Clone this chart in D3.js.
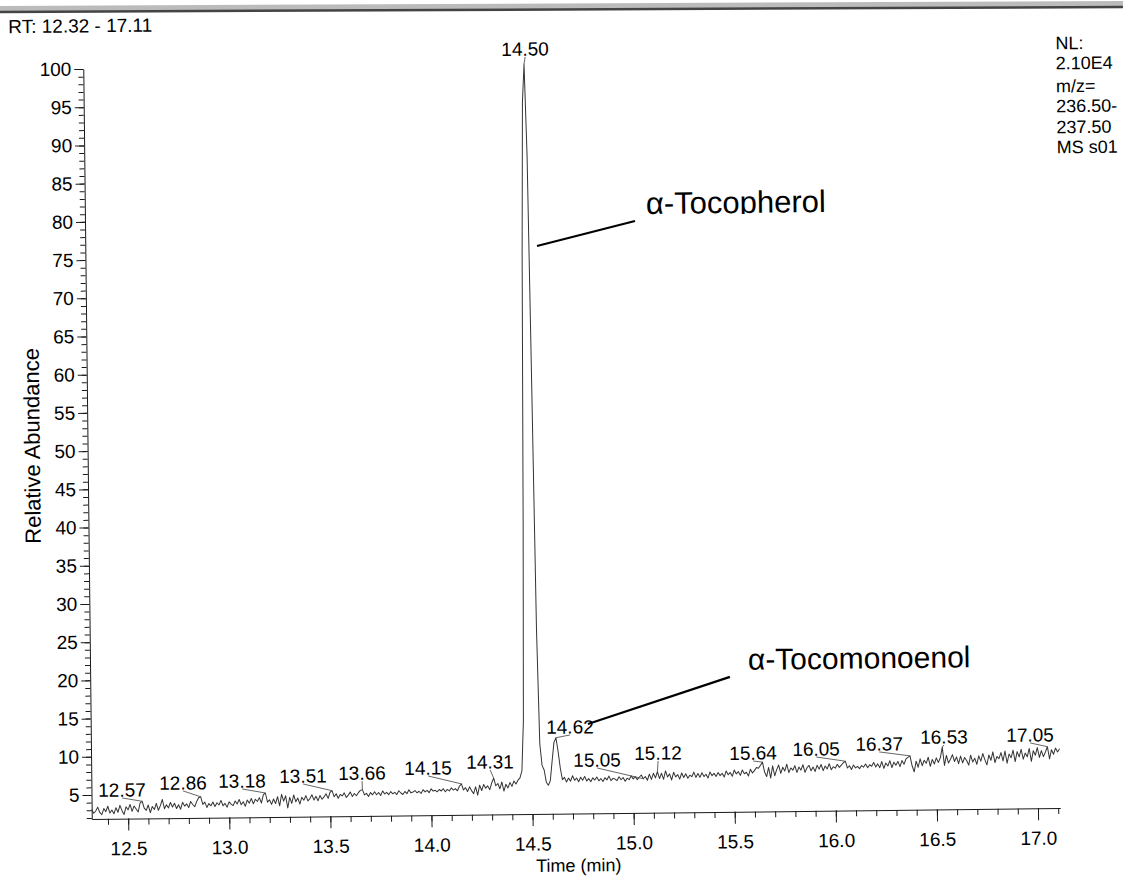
<!DOCTYPE html>
<html><head><meta charset="utf-8">
<script src="https://cdn.jsdelivr.net/npm/d3@7"></script>
<style>
html,body{margin:0;padding:0;background:#fff;}
svg{display:block;font-family:"Liberation Sans",Arial,Helvetica,sans-serif;}
</style></head><body>
<svg id="chart" width="1123" height="878"></svg>
<script>
// ---------------- DATA ----------------
const scanStart = 12.32;   // min
const scanStep = 0.01;     // min per scan
// relative abundance per scan, 12.32 .. 17.11 min
const abundance = [
 3.1,2.6,2.9,3.4,2.7,2.4,3.2,2.8,3.5,2.6,
 3.0,2.5,3.3,2.7,3.6,2.9,2.4,3.4,3.0,3.7,
 2.8,3.5,3.1,2.7,3.9,4.1,3.2,2.9,3.6,2.6,
 3.4,3.0,3.8,2.9,3.5,4.3,3.1,3.6,3.2,3.9,
 3.3,3.8,3.1,3.6,3.0,3.9,3.4,3.7,3.2,4.0,
 3.6,3.3,4.0,4.5,4.6,3.6,3.9,3.2,3.7,3.4,
 3.9,3.3,3.8,3.5,4.1,3.4,3.7,3.2,3.9,3.6,
 3.4,4.0,3.6,4.2,3.5,3.9,3.3,4.1,3.7,4.3,
 3.6,4.2,3.9,4.4,3.7,4.8,5.0,3.8,4.1,3.5,
 4.2,3.6,4.5,3.3,4.8,3.9,4.6,3.0,4.4,3.6,
 4.7,3.8,4.3,3.5,4.4,4.0,4.6,3.9,4.2,4.7,
 4.0,4.5,3.9,4.6,4.1,4.4,4.8,4.2,5.0,5.2,
 4.4,4.8,4.2,4.7,4.5,4.9,4.3,4.6,5.0,4.4,
 4.8,4.5,4.9,5.2,5.3,4.6,4.8,4.4,4.9,4.6,
 5.0,4.6,4.9,4.5,5.1,4.7,4.9,4.6,5.0,4.7,
 4.9,4.6,5.1,4.8,4.6,5.0,4.7,5.2,4.8,4.9,
 5.1,4.8,5.0,4.7,5.2,4.9,5.1,4.8,5.3,5.0,
 5.1,4.9,5.2,5.0,5.3,4.9,5.2,5.0,5.4,5.1,
 5.3,5.0,5.6,5.9,5.1,5.4,4.9,5.5,5.0,4.6,
 5.5,4.4,5.7,5.0,5.8,5.3,5.6,5.1,6.0,6.6,
 5.6,5.9,5.2,6.1,4.9,5.8,5.3,6.0,5.5,6.2,
 5.8,6.3,6.6,7.5,14,40,75,95,100,88,
 58,26,11,8.2,7.6,6.0,5.6,6.2,8.8,11.2,
 11.8,10.0,7.8,6.3,6.6,6.0,6.5,6.1,6.8,6.2,
 6.5,6.0,6.6,6.2,6.7,6.1,6.4,6.0,6.5,6.2,
 6.6,6.1,6.4,6.0,6.5,6.2,6.7,6.1,6.4,6.3,
 6.1,6.6,6.2,6.5,6.0,6.4,6.2,6.7,6.3,6.6,
 6.2,6.5,6.8,6.3,6.6,6.1,6.9,6.2,7.0,6.4,
 7.2,6.3,7.0,6.2,7.3,6.5,6.9,6.1,7.1,6.5,
 6.8,6.2,7.0,6.4,6.9,6.3,6.7,6.5,7.1,6.4,
 6.9,6.4,7.0,6.5,6.8,6.3,7.1,6.6,6.9,6.5,
 7.0,6.6,6.9,6.4,7.2,6.7,7.0,6.5,7.3,6.8,
 7.1,6.6,7.3,6.8,7.0,6.5,7.4,6.9,7.2,7.6,
 7.5,7.9,8.3,7.0,6.4,7.6,6.2,7.8,6.5,7.3,
 7.9,6.8,7.6,7.1,8.0,6.9,7.5,7.2,7.8,6.9,
 7.6,7.2,7.9,6.9,7.5,7.8,7.1,7.6,7.0,7.8,
 7.3,7.9,7.1,7.7,7.3,8.0,7.2,7.6,7.4,7.9,
 7.5,7.8,8.1,8.3,7.4,7.7,7.2,7.8,7.4,7.6,
 7.3,7.7,7.5,7.9,7.4,7.8,7.6,8.1,7.5,7.9,
 7.4,8.2,7.3,8.0,7.6,8.3,7.4,8.1,7.7,8.2,
 7.5,8.3,7.8,8.5,8.7,8.9,7.6,6.8,8.2,7.4,
 8.5,7.6,8.3,7.9,8.7,7.5,8.4,7.8,8.6,8.0,
 8.6,10.0,7.6,8.9,7.9,8.4,9.0,8.1,8.7,7.8,
 8.8,7.9,8.6,8.2,7.6,8.9,8.0,8.5,7.7,8.8,
 8.1,9.1,8.3,7.6,8.9,8.2,9.3,7.9,8.7,8.4,
 9.2,8.1,9.4,7.8,9.0,8.5,9.5,8.0,9.3,8.6,
 9.6,8.3,9.1,8.6,9.7,8.0,9.4,8.8,9.8,8.5,
 9.4,8.6,9.2,9.9,8.3,9.5,8.9,9.7,9.2,9.6
];
// labelled peaks: retention time and where the label sits (time, abundance)
const peakTimes   = [12.57,12.86,13.18,13.51,13.66,14.15,14.31,14.50,14.62,15.05,15.12,15.64,16.05,16.37,16.53,17.05];
const labelTimes  = [12.471,12.773,13.065,13.367,13.659,13.986,14.293,14.506,14.690,14.822,15.124,15.594,15.906,16.218,16.539,16.965];
const labelValues = [5.61,6.44,6.61,7.17,7.47,8.03,8.73,101.96,13.19,8.83,9.65,9.51,9.94,10.51,11.33,11.46];
// axes
const xDomain = [12.32, 17.11];
const yDomain = [1.85, 100];
const xTickValues = [12.5,13.0,13.5,14.0,14.5,15.0,15.5,16.0,16.5,17.0];
const yTickValues = [5,10,15,20,25,30,35,40,45,50,55,60,65,70,75,80,85,90,95,100];
// texts
const rangeTitle = "RT: 12.32 - 17.11";
const infoLines = ["NL:","2.10E4","m/z=","236.50-","237.50","MS s01"];
const xTitle = "Time (min)";
const yTitle = "Relative Abundance";
// compound annotations: label text, text anchor (time, abundance), leader from/to (time, abundance)
const compoundNames   = ["α-Tocopherol","α-Tocomonoenol"];
const compoundTextT   = [15.095, 15.574];
const compoundTextV   = [80.19, 20.40];
const compoundLineT1  = [14.554, 14.779];
const compoundLineV1  = [76.17, 13.55];
const compoundLineT2  = [15.040, 15.484];
const compoundLineV2  = [79.29, 19.50];

// ---------------- DRAW ----------------
const svg = d3.select("#chart");
const ink = "#1a1a1a";
const FONT = "'Liberation Sans',Arial,sans-serif";

// scanned page edge at top
svg.append("line").attr("x1",0).attr("y1",9).attr("x2",1123).attr("y2",4)
  .attr("stroke","#bbb").attr("stroke-width",6);
svg.append("line").attr("x1",0).attr("y1",12).attr("x2",1123).attr("y2",7)
  .attr("stroke","#444").attr("stroke-width",2.5);

const g = svg.append("g").attr("transform","rotate(-0.65,560,440)");

const x = d3.scaleLinear().domain(xDomain).range([87.5, 1056]);
const y = d3.scaleLinear().domain(yDomain).range([813.7, 63.6]);

// y axis minor
const yMinor = g.append("g").attr("transform",`translate(${x(xDomain[0])},0)`)
  .call(d3.axisLeft(y).tickValues(d3.range(2,101,1)).tickSize(5).tickFormat(""));
yMinor.select(".domain").remove();
// y axis major
const yAx = g.append("g").attr("transform",`translate(${x(xDomain[0])},0)`)
  .call(d3.axisLeft(y).tickValues(yTickValues).tickSize(9).tickSizeOuter(0).tickPadding(3).tickFormat(d3.format("d")));
// x axis minor
const xMinor = g.append("g").attr("transform",`translate(0,${y(yDomain[0])})`)
  .call(d3.axisBottom(x).tickValues(d3.range(124,172,1).map(d=>d/10)).tickSize(6).tickFormat(""));
xMinor.select(".domain").remove();
// x axis major
const xAx = g.append("g").attr("transform",`translate(0,${y(yDomain[0])})`)
  .call(d3.axisBottom(x).tickValues(xTickValues).tickSize(12).tickSizeOuter(0).tickPadding(11).tickFormat(d3.format(".1f")));

g.selectAll(".tick line, .domain").attr("stroke",ink).attr("stroke-width",1);
[yAx,xAx].forEach(a=>{
  a.attr("font-family",null).attr("font-size",null);
  a.selectAll("text").attr("fill","#000").style("font-size","19px").style("font-family",FONT);
});

// trace
const timeOf = i => scanStart + i*scanStep;
g.append("path").datum(abundance)
  .attr("fill","none").attr("stroke","#333").attr("stroke-width",1)
  .attr("stroke-linejoin","round")
  .attr("d", d3.line().x((d,i)=>x(timeOf(i))).y(d=>y(d)));

// peak labels + leaders
const labelG = g.append("g");
peakTimes.forEach((t,i)=>{
  const idx = Math.round((t-scanStart)/scanStep);
  const px = x(t), py = y(abundance[idx]);
  const lx = x(labelTimes[i]), ly = y(labelValues[i]);
  labelG.append("line").attr("x1",lx).attr("y1",ly+8).attr("x2",px).attr("y2",py)
    .attr("stroke","#555").attr("stroke-width",0.9);
  labelG.append("text").attr("x",lx).attr("y",ly).attr("dy","0.35em")
    .attr("text-anchor","middle").attr("fill","#000").style("font-size","19px")
    .text(peakTimes[i].toFixed(2));
});

// header texts
g.append("text").attr("x",13).attr("y",27).attr("fill","#000").style("font-size","19px").text(rangeTitle);
const info = g.append("text").attr("x",1060).attr("fill","#000").style("font-size","18px");
const infoY = [55,75,98,118,139,159];
infoLines.forEach((s,i)=> info.append("tspan").attr("x",1060).attr("y",infoY[i]).text(s));

// axis titles
g.append("text").attr("x",574).attr("y",871.7).attr("text-anchor","middle")
  .attr("fill","#000").style("font-size","18px").text(xTitle);
g.append("text").attr("transform","translate(32,440) rotate(-90)").attr("dy","0.35em")
  .attr("text-anchor","middle").attr("fill","#000").style("font-size","22px").text(yTitle);

// compound annotations
const defs = svg.append("defs");
defs.append("clipPath").attr("id","clipToco").append("rect")
  .attr("x",0).attr("y",0).attr("width",1123).attr("height", y(compoundTextV[0])+1);
const compoundSize = ["31px","30px"];
compoundNames.forEach((name,i)=>{
  g.append("line")
    .attr("x1",x(compoundLineT1[i])).attr("y1",y(compoundLineV1[i]))
    .attr("x2",x(compoundLineT2[i])).attr("y2",y(compoundLineV2[i]))
    .attr("stroke","#000").attr("stroke-width",2.2);
  const t = g.append("text").attr("x",x(compoundTextT[i])).attr("y",y(compoundTextV[i]))
    .attr("fill","#000").style("font-size",compoundSize[i]).text(name);
  if(i===0) t.attr("clip-path","url(#clipToco)");
});
</script>
</body></html>
